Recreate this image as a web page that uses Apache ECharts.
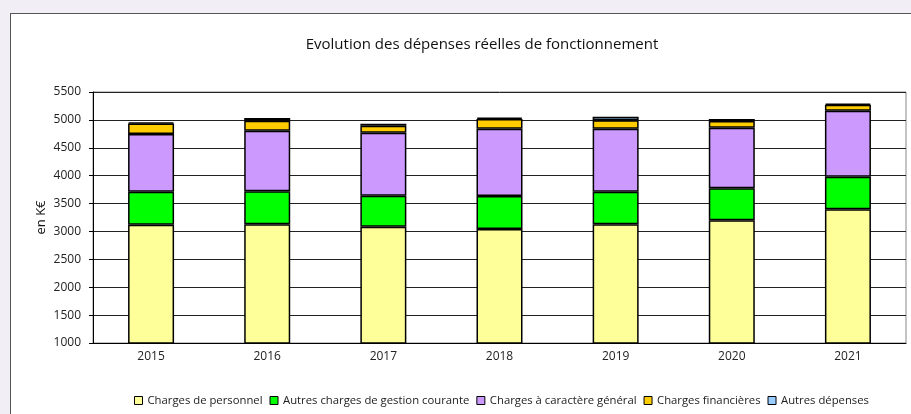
<!DOCTYPE html>
<html>
<head>
<meta charset="utf-8">
<script src="https://cdn.jsdelivr.net/npm/echarts@6/dist/echarts.min.js"></script>
<style>
html,body{margin:0;padding:0;width:911px;height:414px;overflow:hidden;background:#f1eff5;}
#frame{position:absolute;left:10px;top:13px;width:1000px;height:600px;background:#fff;border:1px solid #555;}
#chart{position:absolute;left:0;top:0;width:911px;height:414px;}
</style>
</head>
<body>
<div id="frame"></div>
<div id="chart"></div>
<script>
var years = ['2015','2016','2017','2018','2019','2020','2021'];
var personnel = [3120, 3130, 3085, 3045, 3130, 3200, 3400];
var gestionCourante = [590, 590, 555, 590, 580, 575, 580];
var caractereGeneral = [1035, 1085, 1130, 1205, 1130, 1085, 1185];
var financieres = [190, 180, 125, 175, 155, 120, 105];
var autres = [20, 48, 35, 25, 60, 35, 25];
var seriesNames = ['Charges de personnel','Autres charges de gestion courante','Charges à caractère général','Charges financières','Autres dépenses'];
var seriesData = [personnel, gestionCourante, caractereGeneral, financieres, autres];
var colors = ['#ffff99','#00ff00','#cc99ff','#ffcc00','#99ccff'];

var chart = echarts.init(document.getElementById('chart'), null, {renderer:'canvas'});
var font = 'Open Sans';
chart.setOption({
  backgroundColor: 'transparent',
  animation: false,
  title: {
    text: 'Evolution des dépenses réelles de fonctionnement',
    left: 477, top: 32, textAlign: 'center',
    textStyle: {fontFamily: font, fontSize: 15, fontWeight: 'normal', color: '#111'}
  },
  legend: {
    data: seriesNames,
    bottom: 3, left: 129,
    itemWidth: 8, itemHeight: 8, itemGap: 7,
    icon: 'rect',
    textStyle: {fontFamily: font, fontSize: 11.3, color: '#222'},
    itemStyle: {borderColor: '#000', borderWidth: 1}
  },
  grid: {left: 93, right: 5, top: 92, bottom: 71, show: true, borderColor: '#888', borderWidth: 1, backgroundColor: 'transparent'},
  xAxis: {
    type: 'category', data: years,
    axisLine: {lineStyle: {color: '#000', width: 1}},
    axisTick: {show: false},
    axisLabel: {fontFamily: font, fontSize: 12, color: '#222', margin: 8}
  },
  yAxis: {
    type: 'value', min: 1000, max: 5500, interval: 500,
    name: 'en K€', nameLocation: 'middle', nameGap: 45, nameMoveOverlap: false,
    nameTextStyle: {fontFamily: font, fontSize: 13, color: '#111'},
    axisLine: {show: true, lineStyle: {color: '#000', width: 1}},
    axisTick: {show: true, length: 4, lineStyle: {color: '#000'}},
    axisLabel: {fontFamily: font, fontSize: 12, color: '#222', margin: 12, formatter: function(v){return String(v);}},
    splitLine: {show: true, lineStyle: {color: '#222', width: 1}}
  },
  series: seriesNames.map(function(n, i){
    return {
      name: n, type: 'bar', stack: 'total', barWidth: 46,
      data: seriesData[i],
      itemStyle: {color: colors[i], borderColor: '#000', borderWidth: 1.5}
    };
  })
});
</script>
</body>
</html>
